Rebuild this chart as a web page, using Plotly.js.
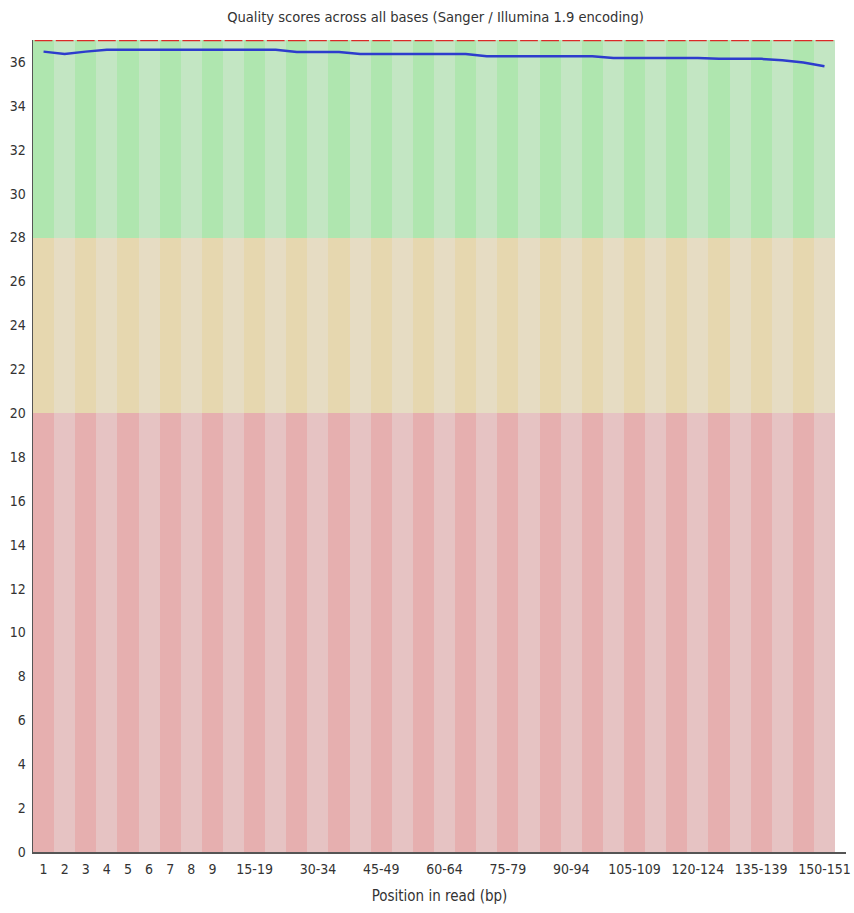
<!DOCTYPE html>
<html>
<head>
<meta charset="utf-8">
<script src="https://cdn.plot.ly/plotly-3.0.1.min.js"></script>
<style>
  html, body { margin: 0; padding: 0; background: #fff; }
  #chart { width: 854px; height: 913px; }
</style>
</head>
<body>
<div id="chart"></div>
<script>
// Position groups along the read
const categories = [
  "1", "2", "3", "4", "5", "6", "7", "8", "9",
  "10-14", "15-19", "20-24", "25-29", "30-34", "35-39", "40-44", "45-49",
  "50-54", "55-59", "60-64", "65-69", "70-74", "75-79", "80-84", "85-89",
  "90-94", "95-99", "100-104", "105-109", "110-114", "115-119", "120-124",
  "125-129", "130-134", "135-139", "140-144", "145-149", "150-151"
];

// Mean quality per position group
const meanQuality = [
  36.47, 36.36, 36.47, 36.56, 36.56, 36.56, 36.56, 36.56, 36.56,
  36.56, 36.56, 36.56, 36.45, 36.45, 36.45, 36.36, 36.36,
  36.36, 36.36, 36.36, 36.36, 36.26, 36.26, 36.26, 36.26,
  36.26, 36.26, 36.18, 36.18, 36.18, 36.18, 36.18,
  36.14, 36.14, 36.14, 36.08, 35.97, 35.80
];

// Median quality per position group
const medianQuality = [
  37, 37, 37, 37, 37, 37, 37, 37, 37,
  37, 37, 37, 37, 37, 37, 37, 37,
  37, 37, 37, 37, 37, 37, 37, 37,
  37, 37, 37, 37, 37, 37, 37,
  37, 37, 37, 37, 37, 37
];

// Labels printed under the x axis
const shownLabels = [
  "1", "2", "3", "4", "5", "6", "7", "8", "9",
  "15-19", "30-34", "45-49", "60-64", "75-79", "90-94",
  "105-109", "120-124", "135-139", "150-151"
];

// Quality bands: poor, reasonable, good
const bandEdges = [0, 20, 28, 37];
const bandColors = [
  ["rgb(230,175,175)", "rgb(230,195,195)"],
  ["rgb(230,215,175)", "rgb(230,220,195)"],
  ["rgb(175,230,175)", "rgb(195,230,195)"]
];

const idx = categories.map((_, i) => i);

const traces = [];
for (let b = 0; b < 3; b++) {
  traces.push({
    type: "bar",
    x: idx,
    y: idx.map(() => bandEdges[b + 1] - bandEdges[b]),
    base: idx.map(() => bandEdges[b]),
    width: 1,
    marker: {
      color: idx.map(i => bandColors[b][i % 2]),
      line: { width: 0 }
    },
    hoverinfo: "skip",
    showlegend: false
  });
}

// Median drawn as a short segment across each position group
const medX = [], medY = [];
idx.forEach(i => {
  medX.push(i - 0.42, i + 0.42, null);
  medY.push(medianQuality[i], medianQuality[i], null);
});
traces.push({
  type: "scatter",
  mode: "lines",
  x: medX,
  y: medY,
  line: { color: "rgb(220,40,40)", width: 2.5 },
  hoverinfo: "skip",
  showlegend: false,
  cliponaxis: false
});

// Mean quality line
traces.push({
  type: "scatter",
  mode: "lines",
  x: idx,
  y: meanQuality,
  line: { color: "rgb(45,60,205)", width: 2.5 },
  hoverinfo: "skip",
  showlegend: false
});

const fontFamily = "'DejaVu Sans Condensed', 'Liberation Sans Narrow', 'DejaVu Sans', sans-serif";
const tickFont = { family: fontFamily, size: 14, color: "#333" };

const layout = {
  width: 854,
  height: 913,
  margin: { l: 33, r: 8, t: 40, b: 61 },
  paper_bgcolor: "#fff",
  plot_bgcolor: "#fff",
  barmode: "overlay",
  bargap: 0,
  title: {
    text: "Quality scores across all bases (Sanger / Illumina 1.9 encoding)",
    font: { family: fontFamily, size: 14.6, color: "#333" },
    x: 0.51, xanchor: "center",
    y: 0.982, yanchor: "middle"
  },
  xaxis: {
    range: [-0.5, 38.02],
    tickmode: "array",
    tickvals: shownLabels.map(l => categories.indexOf(l)),
    ticktext: shownLabels,
    ticks: "",
    showgrid: false,
    zeroline: false,
    showline: true,
    linecolor: "#555",
    linewidth: 1.5,
    tickfont: tickFont,
    ticklabelstandoff: 4,
    title: {
      text: "Position in read (bp)",
      font: { family: fontFamily, size: 15, color: "#333" },
      standoff: 14
    }
  },
  yaxis: {
    range: [0, 37],
    tickmode: "linear",
    tick0: 0,
    dtick: 2,
    ticks: "",
    showgrid: false,
    zeroline: false,
    showline: true,
    linecolor: "#555",
    linewidth: 1.5,
    tickfont: tickFont,
    ticklabelstandoff: 3
  }
};

Plotly.newPlot("chart", traces, layout, { displayModeBar: false, staticPlot: true });
</script>
</body>
</html>
